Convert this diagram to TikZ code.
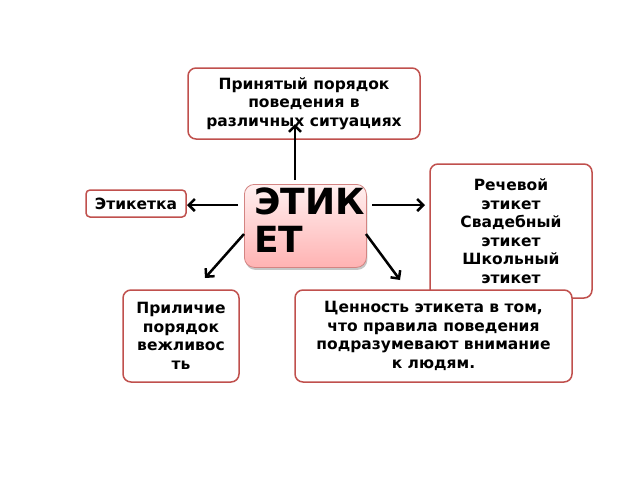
\documentclass[tikz,border=0pt]{standalone}
\usepackage{fontspec}
\setmainfont{DejaVu Sans}
\usetikzlibrary{arrows.meta,shadows}
\definecolor{bord}{HTML}{C0504D}
\begin{document}
\begin{tikzpicture}[x=1pt,y=-1pt,
  box/.style={draw=bord,line width=1.5pt,rounded corners=8pt,fill=white,align=center,font=\bfseries\fontsize{15.5}{18.5}\selectfont,inner sep=1pt},
  arr/.style={line width=2.5pt,-{Straight Barb[length=6pt,width=12pt]}}]
\useasboundingbox (0,0) rectangle (640,480);
\node[box,minimum width=232pt,minimum height=71pt] (top) at (304,103.5) {Принятый порядок\\поведения в\\различных ситуациях};
\node[box,minimum width=162pt,minimum height=134pt] (right) at (511,231) {Речевой\\этикет\\Свадебный\\этикет\\Школьный\\этикет};
\node[box,minimum width=100pt,minimum height=27pt,rounded corners=4pt] (left) at (136,203.5) {Этикетка};
\node[draw=bord!70,line width=0.8pt,rounded corners=10pt,minimum width=122pt,minimum height=83pt,
  top color=red!6,bottom color=red!30,drop shadow={shadow xshift=1pt,shadow yshift=-2.5pt,opacity=0.45},
  anchor=north west,inner sep=0pt] (c) at (244,184) {};
\node[anchor=north west,align=left,font=\bfseries\fontsize{36}{38}\selectfont,inner sep=0pt] (ct) at (254,188) {ЭТИК\\ЕТ};
\node[box,minimum width=116pt,minimum height=92pt] (bl) at (181,336) {Приличие\\порядок\\вежливос\\ть};
\node[box,minimum width=277pt,minimum height=92pt] (br) at (433.5,336) {Ценность этикета в том,\\что правила поведения\\подразумевают внимание\\к людям.};
\coordinate (ctop) at (295,180);
\coordinate (ttip) at (295,124);
\coordinate (cl) at (238,205);
\coordinate (ltip) at (187,205);
\coordinate (cr) at (372,205);
\coordinate (rtip) at (425,205);
\coordinate (cbl) at (244,234);
\coordinate (bltip) at (205,278);
\coordinate (cbr) at (366,234);
\coordinate (brtip) at (400,280);
\draw[arr] (ctop) -- (ttip);
\draw[arr] (cl) -- (ltip);
\draw[arr] (cr) -- (rtip);
\draw[arr] (cbl) -- (bltip);
\draw[arr] (cbr) -- (brtip);
\end{tikzpicture}
\end{document}
